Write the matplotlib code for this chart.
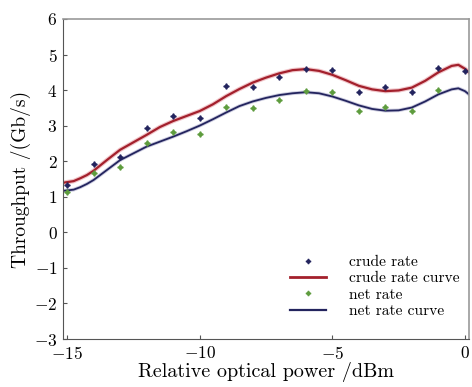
import matplotlib
matplotlib.use("Agg")
import matplotlib.pyplot as plt
from matplotlib.lines import Line2D

plt.rcParams['font.family'] = 'serif'
plt.rcParams['font.serif'] = ['cmr10', 'DejaVu Serif']
plt.rcParams['mathtext.fontset'] = 'cm'
plt.rcParams['axes.formatter.use_mathtext'] = True

# measured throughput per relative optical power (dBm)
power = [-15, -14, -13, -12, -11, -10, -9, -8, -7, -6, -5, -4, -3, -2, -1, 0]
crude_rate = [1.33, 1.92, 2.12, 2.93, 3.27, 3.22, 4.12, 4.09, 4.37, 4.59, 4.57,
              3.95, 4.09, 3.95, 4.62, 4.54]
net_power = [-15, -14, -13, -12, -11, -10, -9, -8, -7, -6, -5, -4, -3, -2, -1]
net_rate = [1.13, 1.67, 1.84, 2.51, 2.82, 2.77, 3.53, 3.50, 3.72, 3.97, 3.95,
            3.41, 3.53, 3.41, 4.00]

# fitted curves
curve_power = [-15.1, -14.75, -14.5, -14.25, -14.0, -13.5, -13.0, -12.5, -12.0, -11.5, -11.0, -10.5,
               -10.0, -9.5, -9.0, -8.5, -8.0, -7.5, -7.0, -6.5, -6.0, -5.5, -5.0,
               -4.5, -4.0, -3.5, -3.0, -2.5, -2.0, -1.5, -1.0, -0.5, -0.25, 0.0, 0.15]
crude_curve = [1.40, 1.44, 1.52, 1.61, 1.73, 2.03, 2.32, 2.53, 2.74, 2.96, 3.13, 3.27,
               3.41, 3.60, 3.83, 4.03, 4.21, 4.35, 4.47, 4.56, 4.59, 4.54, 4.43,
               4.28, 4.12, 4.02, 3.97, 3.99, 4.07, 4.26, 4.50, 4.68, 4.71, 4.60, 4.50]
net_curve = [1.17, 1.20, 1.27, 1.36, 1.47, 1.75, 2.03, 2.22, 2.41, 2.55, 2.69, 2.84,
             3.00, 3.18, 3.37, 3.55, 3.68, 3.78, 3.86, 3.91, 3.94, 3.91, 3.82,
             3.70, 3.57, 3.47, 3.42, 3.43, 3.51, 3.68, 3.88, 4.02, 4.05, 3.97, 3.88]

red = '#a3202c'
navy = '#23245e'
green = '#5e9c3e'
star = (4, 1, 0)

fig = plt.figure(figsize=(4.72, 3.87), dpi=100)
ax = fig.add_axes([0.1335, 0.124, 0.86, 0.827])

ax.plot(curve_power, crude_curve, color='#e8a0a8', lw=3.2, alpha=0.6, solid_joinstyle='round')
ax.plot(curve_power, crude_curve, color=red, lw=1.6, solid_joinstyle='round')
ax.plot(curve_power, net_curve, color='#9a9ac0', lw=2.6, alpha=0.5, solid_joinstyle='round')
ax.plot(curve_power, net_curve, color=navy, lw=1.3, solid_joinstyle='round')
ax.plot(power, crude_rate, ls='none', marker=star, ms=4, color=navy)
ax.plot(net_power, net_rate, ls='none', marker=star, ms=4, color=green)

ax.set_xlim(-15.15, 0.15)
ax.set_ylim(-3, 6)
ax.set_xticks([-15, -10, -5, 0])
ax.set_yticks(range(-3, 7))
ax.tick_params(direction='in', length=3, labelsize=12.5, color='#555555', pad=4)
for side in ['left', 'bottom']:
    ax.spines[side].set_color('#555555')
for side in ['top', 'right']:
    ax.spines[side].set_color('#999999')
    ax.spines[side].set_linewidth(1.2)

ax.set_xlabel('Relative optical power /dBm', fontsize=14.5, labelpad=0)
ax.set_ylabel('Throughput /(Gb/s)', fontsize=14, labelpad=2)

handles = [
    Line2D([], [], ls='none', marker=star, ms=3.5, color=navy),
    Line2D([], [], color=red, lw=2),
    Line2D([], [], ls='none', marker=star, ms=3.5, color=green),
    Line2D([], [], color=navy, lw=1.6),
]
labels = ['crude rate', 'crude rate curve', 'net rate', 'net rate curve']
ax.legend(handles, labels, loc='lower right', bbox_to_anchor=(1.0, 0.036),
          frameon=False, fontsize=11.2, handlelength=2.3, handletextpad=1.5,
          labelspacing=0.16, borderaxespad=0.2)

fig.savefig('out.png', dpi=100)
